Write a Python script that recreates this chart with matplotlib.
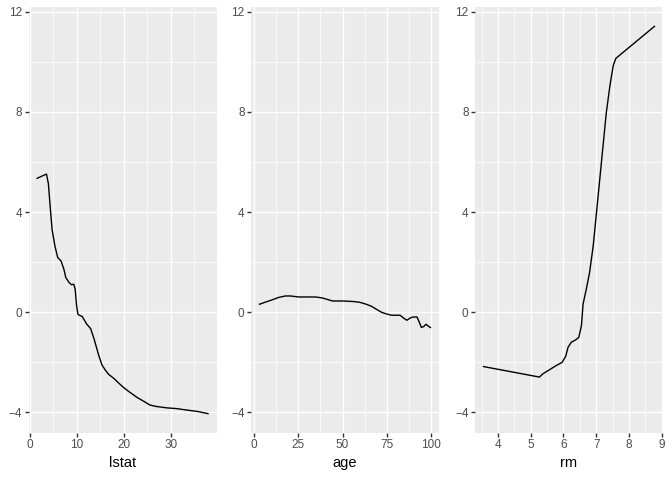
import matplotlib
matplotlib.use("Agg")
import matplotlib.pyplot as plt
from matplotlib.ticker import FixedLocator

plt.rcParams['font.family'] = ['Liberation Sans', 'DejaVu Sans']

# ---- data ----
lstat_x = [1.6, 3.6, 4.0, 4.5, 4.8, 5.4, 6.0, 6.7, 7.3, 7.7, 8.4, 8.9, 9.4, 9.7, 10.0,
           10.3, 11.2, 12.1, 13.0, 13.7, 14.7, 15.4, 16.1, 16.8, 17.9, 19.0, 20.0, 21.4,
           22.9, 24.3, 25.5, 26.8, 29.2, 31.3, 33.5, 35.6, 37.9]
lstat_y = [5.35, 5.52, 5.15, 3.96, 3.30, 2.64, 2.18, 2.05, 1.72, 1.39, 1.19, 1.10, 1.12,
           0.92, 0.26, -0.09, -0.17, -0.46, -0.66, -1.06, -1.72, -2.11, -2.31, -2.48,
           -2.64, -2.84, -3.01, -3.21, -3.41, -3.56, -3.70, -3.76, -3.82, -3.85, -3.91,
           -3.96, -4.05]

age_x = [3.2, 6.3, 10.1, 13.9, 17.7, 20.6, 25.3, 34.9, 38.7, 41.5, 44.4, 50.1, 55.8,
         59.6, 63.4, 66.3, 69.1, 72.0, 74.9, 77.7, 82.5, 84.4, 86.3, 88.2, 89.7, 92.0,
         92.9, 94.5, 95.8, 97.1, 98.7, 99.6]
age_y = [0.32, 0.40, 0.49, 0.59, 0.65, 0.65, 0.61, 0.61, 0.57, 0.51, 0.45, 0.45, 0.43,
         0.40, 0.32, 0.24, 0.12, 0.00, -0.07, -0.12, -0.12, -0.23, -0.32, -0.23, -0.19,
         -0.19, -0.33, -0.61, -0.57, -0.48, -0.57, -0.61]

rm_x = [3.56, 5.27, 5.37, 5.57, 5.78, 5.96, 6.07, 6.14, 6.24, 6.39, 6.47, 6.55, 6.60,
        6.70, 6.80, 6.91, 7.01, 7.11, 7.21, 7.31, 7.42, 7.52, 7.60, 8.78]
rm_y = [-2.17, -2.59, -2.46, -2.30, -2.13, -2.00, -1.76, -1.40, -1.20, -1.09, -1.00,
        -0.53, 0.33, 0.93, 1.60, 2.66, 3.99, 5.32, 6.65, 7.98, 9.05, 9.85, 10.14, 11.42]

panel_names = ["lstat", "age", "rm"]
xs = [lstat_x, age_x, rm_x]
ys = [lstat_y, age_y, rm_y]
x_major = [[0, 10, 20, 30], [0, 25, 50, 75, 100], [4, 5, 6, 7, 8, 9]]
x_minor = [[5, 15, 25, 35], [12.5, 37.5, 62.5, 87.5], [3.5, 4.5, 5.5, 6.5, 7.5, 8.5]]
y_major = [-4, 0, 4, 8, 12]
y_minor = [-2, 2, 6, 10]

fig = plt.figure(figsize=(6.72, 4.8), dpi=100)
fig.patch.set_facecolor("white")

lefts = [28.5, 251, 475]
pw = 188
bottom_px, top_px = 433, 7
W, H = 672, 480

all_y = lstat_y + age_y + rm_y
ymin, ymax = min(all_y), max(all_y)
yr = ymax - ymin

for i in range(3):
    ax = fig.add_axes([lefts[i] / W, (H - bottom_px) / H, pw / W, (bottom_px - top_px) / H])
    ax.set_facecolor("#EBEBEB")
    for s in ax.spines.values():
        s.set_visible(False)
    x = xs[i]
    xr = max(x) - min(x)
    ax.set_xlim(min(x) - 0.05 * xr, max(x) + 0.05 * xr)
    ax.set_ylim(ymin - 0.05 * yr, ymax + 0.05 * yr)
    ax.xaxis.set_major_locator(FixedLocator(x_major[i]))
    ax.xaxis.set_minor_locator(FixedLocator(x_minor[i]))
    ax.yaxis.set_major_locator(FixedLocator(y_major))
    ax.yaxis.set_minor_locator(FixedLocator(y_minor))
    ax.grid(which="major", color="white", linewidth=1.0)
    ax.grid(which="minor", color="white", linewidth=0.5)
    ax.set_axisbelow(True)
    ax.tick_params(which="major", length=2.64, width=1.0, color="#333333",
                   labelcolor="#4D4D4D", labelsize=8.45, pad=2.0)
    ax.tick_params(which="minor", length=0)
    ax.plot(x, ys[i], color="black", linewidth=1.0)
    ax.set_xlabel(panel_names[i], fontsize=10.56, color="black", labelpad=3.5)

fig.savefig("out.png", dpi=100)
